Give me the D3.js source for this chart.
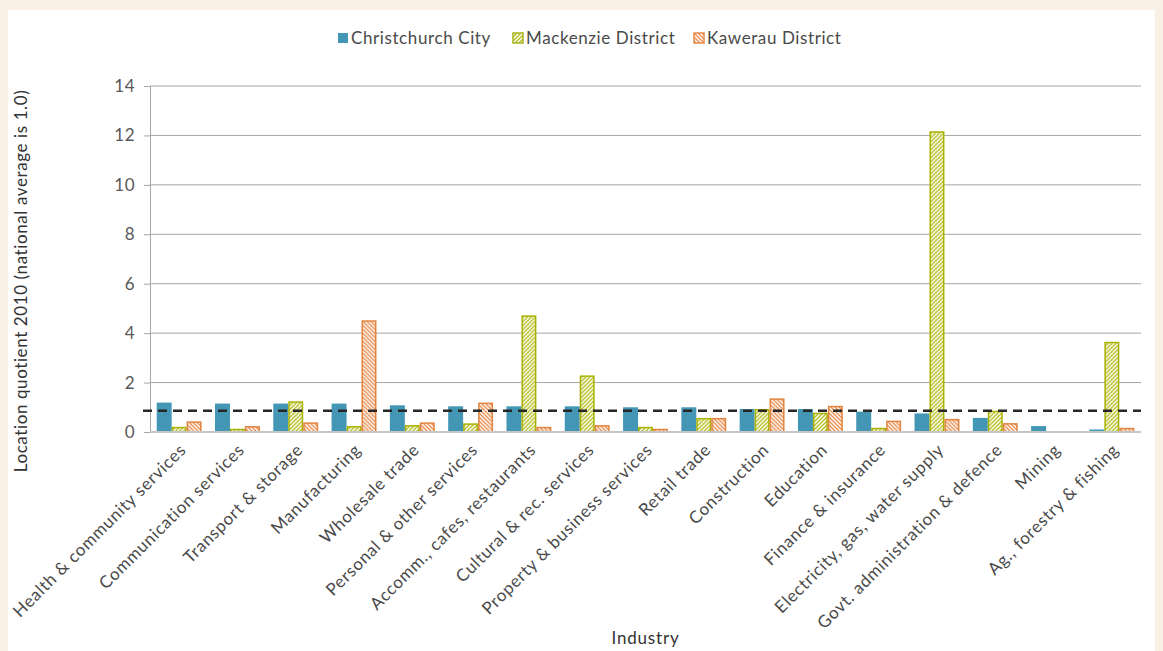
<!DOCTYPE html>
<html>
<head>
<meta charset="utf-8">
<script src="https://cdn.jsdelivr.net/npm/d3@7"></script>
<style>
  body { margin: 0; background: #faf0e6; }
  svg { display: block; }
  text { font-family: Lato, "Open Sans", sans-serif; }
</style>
</head>
<body>
<script>
(function () {

    const industries = [
        'Health & community services', 'Communication services', 'Transport & storage',
        'Manufacturing', 'Wholesale trade', 'Personal & other services',
        'Accomm., cafes, restaurants', 'Cultural & rec. services', 'Property & business services',
        'Retail trade', 'Construction', 'Education', 'Finance & insurance',
        'Electricity, gas, water supply', 'Govt. administration & defence', 'Mining',
        'Ag., forestry & fishing'
    ];

    const seriesNames = ['Christchurch City', 'Mackenzie District', 'Kawerau District'];

    const christchurch = [1.19, 1.15, 1.15, 1.15, 1.08, 1.04, 1.04, 1.04, 1.0, 1.0, 0.93, 0.93, 0.82, 0.75, 0.57, 0.24, 0.1];
    const mackenzie = [0.21, 0.13, 1.24, 0.24, 0.28, 0.35, 4.72, 2.29, 0.21, 0.57, 0.93, 0.78, 0.17, 12.17, 0.86, 0, 3.65];
    const kawerau = [0.43, 0.24, 0.39, 4.52, 0.39, 1.19, 0.21, 0.28, 0.13, 0.57, 1.36, 1.06, 0.46, 0.53, 0.36, 0, 0.17];

    const yTicks = [0, 2, 4, 6, 8, 10, 12, 14];
    const reference = 0.86;

    const table = industries.map((name, i) => ({
        name: name,
        values: [christchurch[i], mackenzie[i], kawerau[i]]
    }));

    const W = 1163, H = 651;
    const margin = {top: 86, right: 22, bottom: 219, left: 150};
    const width = 1141 - margin.left,
        height = 432 - margin.top;

    const svg = d3.select('body')
        .append('svg')
        .attr('width', W)
        .attr('height', H);

    // patterns for the hatched series
    const defs = svg.append('defs');
    const green = defs.append('pattern')
        .attr('id', 'hatchGreen')
        .attr('patternUnits', 'userSpaceOnUse')
        .attr('width', 4).attr('height', 4);
    green.append('rect').attr('width', 4).attr('height', 4).attr('fill', '#fff');
    green.append('path')
        .attr('d', 'M-1,1 l2,-2 M0,4 l4,-4 M3,5 l2,-2')
        .attr('stroke', '#b4bd1f').attr('stroke-width', 1.4);

    const orange = defs.append('pattern')
        .attr('id', 'hatchOrange')
        .attr('patternUnits', 'userSpaceOnUse')
        .attr('width', 4).attr('height', 4);
    orange.append('rect').attr('width', 4).attr('height', 4).attr('fill', '#fff');
    orange.append('path')
        .attr('d', 'M-1,3 l2,2 M0,0 l4,4 M3,-1 l2,2')
        .attr('stroke', '#ea8d4e').attr('stroke-width', 1.4);

    const fills = ['#4397b5', 'url(#hatchGreen)', 'url(#hatchOrange)'];
    const strokes = ['none', '#a9b200', '#e2843f'];
    const legendFills = ['#4397b5', '#a9b41e', '#e8894a'];

    // white panel
    svg.append('rect')
        .attr('x', 8).attr('y', 10)
        .attr('width', 1147).attr('height', H - 10)
        .attr('fill', '#fff');

    const g = svg.append('g')
        .attr('transform', 'translate(' + margin.left + ', ' + margin.top + ')');

    const x0 = d3.scaleBand()
        .domain(industries)
        .range([0, width])
        .paddingInner(0.23)
        .paddingOuter(0.115);

    const x1 = d3.scaleBand()
        .domain(d3.range(3))
        .range([0, x0.bandwidth()]);

    const y = d3.scaleLinear()
        .domain([0, 14])
        .range([height, 0]);

    // gridlines
    g.append('g')
        .selectAll('line')
        .data(yTicks.slice(1))
        .join('line')
        .attr('x1', 0).attr('x2', width)
        .attr('y1', d => y(d)).attr('y2', d => y(d))
        .attr('stroke', '#a6a6a6')
        .attr('stroke-width', 1);

    const yAxis = d3.axisLeft(y)
        .tickValues(yTicks)
        .tickSize(6)
        .tickPadding(9);

    const ya = g.append('g').call(yAxis);
    ya.select('.domain').attr('stroke', '#a6a6a6');
    ya.selectAll('.tick line').attr('stroke', '#a6a6a6');
    ya.selectAll('.tick text')
        .attr('fill', '#595959')
        .style('font-size', '17px')
        .style('letter-spacing', '0.5px');

    // bars
    const groups = g.append('g')
        .selectAll('g')
        .data(table)
        .join('g')
        .attr('transform', d => 'translate(' + x0(d.name) + ',0)');

    groups.selectAll('rect')
        .data(d => d.values.map((v, k) => ({k: k, v: v})).filter(e => e.v > 0))
        .join('rect')
        .attr('x', e => x1(e.k) + (e.k ? 0.75 : 0))
        .attr('y', e => y(e.v) + (e.k ? 0.75 : 0))
        .attr('width', e => x1.bandwidth() - (e.k ? 1.5 : 0))
        .attr('height', e => Math.max(0, height - y(e.v) - (e.k ? 0.75 : 0)))
        .attr('fill', e => fills[e.k])
        .attr('stroke', e => strokes[e.k])
        .attr('stroke-width', 1.5);

    // x axis baseline
    g.append('line')
        .attr('x1', 0).attr('x2', width)
        .attr('y1', height).attr('y2', height)
        .attr('stroke', '#c6c6c6')
        .attr('stroke-width', 2);

    // reference dashed line
    g.append('line')
        .attr('x1', -7).attr('x2', width)
        .attr('y1', y(reference)).attr('y2', y(reference))
        .attr('stroke', '#262626')
        .attr('stroke-width', 2.5)
        .attr('stroke-dasharray', '9,6');

    // category labels
    g.append('g')
        .selectAll('text')
        .data(industries)
        .join('text')
        .attr('transform', d => 'translate(' + (x0(d) + x0.bandwidth() / 2 + 8) + ',' + (height + 19) + ') rotate(-45)')
        .attr('text-anchor', 'end')
        .attr('fill', '#4a4a4a')
        .style('font-size', '17px')
        .style('letter-spacing', '0.7px')
        .text(d => d);

    // axis titles
    svg.append('text')
        .attr('x', margin.left + width / 2)
        .attr('y', 644)
        .attr('text-anchor', 'middle')
        .attr('fill', '#333')
        .style('font-size', '17px')
        .style('letter-spacing', '0.8px')
        .text('Industry');

    svg.append('text')
        .attr('transform', 'translate(27,' + 281 + ') rotate(-90)')
        .attr('text-anchor', 'middle')
        .attr('fill', '#333')
        .style('font-size', '17px')
        .style('letter-spacing', '0.6px')
        .text('Location quotient 2010 (national average is 1.0)');

    // legend
    const legendX = [338, 513, 694];
    const legend = svg.append('g')
        .selectAll('g')
        .data(seriesNames)
        .join('g')
        .attr('transform', (d, i) => 'translate(' + legendX[i] + ',33)');

    legend.append('rect')
        .attr('width', 10).attr('height', 10)
        .attr('fill', (d, i) => i ? fills[i] : legendFills[0])
        .attr('stroke', (d, i) => i ? legendFills[i] : 'none')
        .attr('stroke-width', 1.5);

    legend.append('text')
        .attr('x', 13)
        .attr('y', 11)
        .attr('fill', '#4a4a4a')
        .style('font-size', '17px')
        .style('letter-spacing', '0.6px')
        .text(d => d);

})();
</script>
</body>
</html>
